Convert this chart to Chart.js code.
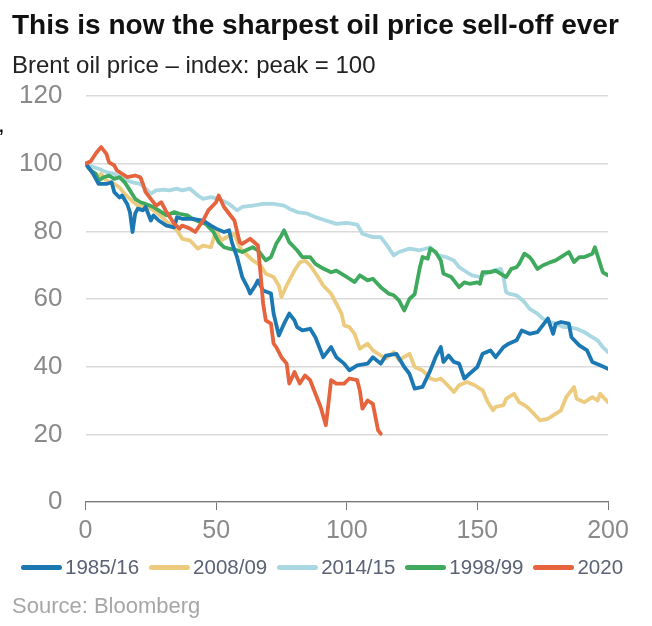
<!DOCTYPE html>
<html>
<head>
<meta charset="utf-8">
<script src="https://cdn.jsdelivr.net/npm/chart.js@4.4.1/dist/chart.umd.min.js"></script>
<style>
  html, body { margin: 0; padding: 0; background: #fff; }
  #wrap { position: relative; width: 652px; height: 626px; overflow: hidden; font-family: "Liberation Sans", Arial, sans-serif; }
  #chart { position: absolute; left: 0; top: 0; }
  .txt { position: absolute; left: 12px; white-space: nowrap; }
  #title { top: 11px; font-size: 28px; line-height: 28px; font-weight: bold; color: #111; }
  #subtitle { top: 53px; font-size: 24px; line-height: 24px; color: #222; }
  #source { top: 595px; font-size: 22px; line-height: 22px; color: #a6a6a6; }
  #mark { left: -2px; top: 112px; font-size: 24px; line-height: 24px; color: #000; }
  #legend { position: absolute; left: 21px; top: 556px; height: 22px; display: flex; align-items: center; font-size: 20.5px; line-height: 22px; color: #5b6275; white-space: nowrap; }
  #legend .item { display: flex; align-items: center; margin-right: 10px; }
  #legend .line { width: 41px; height: 5px; border-radius: 3px; margin-right: 3px; }
</style>
</head>
<body>
<div id="wrap">
  <canvas id="chart" width="652" height="626"></canvas>
  <div class="txt" id="title">This is now the sharpest oil price sell-off ever</div>
  <div class="txt" id="subtitle">Brent oil price – index: peak = 100</div>
  <div class="txt" id="mark">,</div>
  <div id="legend"></div>
  <div class="txt" id="source">Source: Bloomberg</div>
</div>
<script>
// days since the peak, and the index value (peak = 100)
const labels = ['1985/16', '2008/09', '2014/15', '1998/99', '2020'];
const yTicks = [0, 20, 40, 60, 80, 100, 120];
const xTicks = [0, 50, 100, 150, 200];

const days1985 = [0,3,5,8,10,11,13,14,16,17,18,19,20,22,23,25,26,28,31,34,35,37,41,45,48,50,53,55,56,58,60,62,63,65,66,68,71,72,74,76,78,80,81,83,86,88,91,94,96,99,101,104,108,110,113,115,119,122,124,126,129,132,134,136,137,139,141,143,145,147,150,152,155,157,160,162,165,167,170,173,175,177,179,180,182,185,186,189,192,194,197,200];
const vals1985 = [100,97,94,94,94.5,91.6,90,90.6,88,85.7,79.8,85.2,86.7,86.2,87.2,83.2,84.7,83.2,81.7,81.2,84.2,83.7,83.7,83.2,81.7,80.8,79.8,80.3,76.8,72.4,66.5,63.5,61.6,64,65.5,62.5,61.6,55.7,49.2,52.7,55.7,53.7,51.7,50.7,51.2,48.7,42.8,45.8,42.8,40.9,38.9,40.4,40.9,42.8,40.9,43.3,43.8,39.9,37.9,33.5,34,38.9,42.8,45.8,41.4,43.3,41.4,40.9,36.5,37.9,39.9,43.8,44.8,42.8,45.8,46.8,47.8,50.7,49.7,50.2,52.2,54.2,49.7,52.7,53.2,52.7,48.7,46.3,44.8,41.4,40.4,39.4];

const days2008 = [0,2,4,6,8,11,13,15,17,20,22,25,27,30,32,35,37,40,43,45,48,50,52,54,57,59,62,64,67,69,72,74,75,77,80,82,84,86,89,91,94,96,98,99,101,103,105,108,110,113,115,118,120,124,126,129,132,134,136,138,141,143,146,149,152,154,156,157,160,161,164,166,169,171,174,177,179,182,184,187,188,191,194,196,197,200];
const vals2008 = [100,98,95.5,97,95,94,93,91.1,89.6,87.6,87.2,86.7,85.7,83.7,82.2,80.3,77.8,77.3,74.9,75.8,75.3,80.3,77.3,78.3,79.3,75.3,72.9,71.4,69.9,67.5,66.5,64,60.6,64,68.4,70.8,71.4,69.9,66.5,64,61.6,58.6,55.7,52.2,51.7,49.7,45.3,46.8,44.8,43.3,42.4,44.3,41.9,43.8,39.9,38.9,36.5,36,36.5,35,32.5,34.5,35.5,34.5,33,29.5,27.1,28.1,28.6,30.5,32,29.5,28.1,26.6,24.1,24.6,25.6,27.1,31,34,30.5,29.5,31,30,32,29.5];

const days2014 = [0,3,5,8,11,13,16,18,21,23,25,27,30,32,35,37,40,43,45,48,51,55,58,60,64,68,72,76,78,81,85,88,92,96,100,104,106,110,113,115,118,120,124,128,132,135,138,141,143,146,148,151,154,156,159,160,161,162,165,168,170,173,175,178,180,183,185,188,191,193,196,198,200];
const vals2014 = [100,99,98.5,97.5,97,96,95,94.5,94,92.6,91.1,92.1,92.3,92.1,92.6,92.1,92.6,90.6,89.6,90.1,89.6,88.1,86.2,87.2,87.6,88.1,88.1,87.6,86.7,85.7,85.2,84.2,83.2,82.2,82.5,82,79.3,78.3,78.3,76.3,72.9,73.9,74.9,74.4,75.3,72.9,72.4,71.4,69.4,67.9,67,66.5,67.9,68.4,68.9,66.5,62,61.6,61.1,59.1,57.1,55.7,54.2,53.2,52.7,51.7,51.7,51.2,50.2,49.2,47.8,45.8,44.3];

const days1998 = [0,2,4,5,7,9,11,13,15,17,19,21,23,26,28,31,34,36,39,41,44,46,49,51,53,55,58,60,64,66,69,71,73,75,76,78,81,83,86,88,91,94,96,99,100,103,105,108,110,113,116,118,120,122,124,126,128,129,131,132,134,136,137,140,141,143,145,147,150,151,152,155,157,161,163,165,166,168,170,171,173,175,178,180,183,185,187,189,191,194,195,197,198,200];
const vals1998 = [100,98,97,95,96,96.5,95.5,96,94.5,92.1,89.6,88.6,88.1,87.2,86.2,84.7,85.7,85.2,84.7,83.7,82.7,82.2,79.8,76.8,75.3,74.9,74.4,73.9,75.3,74.4,71.4,72.4,76.3,78.8,80.3,76.8,74.4,72.4,72.4,70.4,69,67.9,68.4,67,66.5,65,67,65.5,66,63.5,61.6,61.1,59.6,56.6,60,61.4,69.4,72.4,71.9,74.9,73.9,71.4,67.5,66.5,65.5,63.5,64.9,64.5,64.9,64.5,67.9,67.9,68.4,66.5,68.9,69.4,70.4,73.4,72.4,71.4,68.9,69.9,70.9,71.4,72.9,73.9,70.9,72.4,72.4,73.4,75.3,70.4,67.9,67];

const days2020 = [0,2,4,6,8,9,11,12,14,16,19,21,22,23,25,27,29,31,34,36,37,40,42,45,47,50,51,53,57,59,60,63,66,67,68,69,71,72,73,75,77,78,80,82,84,86,88,90,92,93,94,96,99,101,104,105,106,108,110,112,113];
const vals2020 = [100,100.7,103.1,104.9,102.9,100.4,99.5,98,97,96,96.5,96,94,91.6,89.6,87.6,88.6,85.7,82.2,80.8,81.7,80.8,79.8,83.2,86.2,88.6,90.6,87.2,83.2,76.8,76.3,77.8,75.8,67.5,58.6,53.7,52.7,46.8,45.8,42.8,40.9,35,38.4,35,37.4,36,32,28.1,22.7,29.1,36,35,35,36.5,36,33,27.6,30,29,21.2,20.2];

const colors = ['#1b78b3', '#eccb7e', '#a9d8e2', '#3fa95e', '#e5643d'];

function pts(days, vals) {
  return days.map((d, i) => ({ x: d, y: vals[i] }));
}

const series = [
  pts(days1985, vals1985),
  pts(days2008, vals2008),
  pts(days2014, vals2014),
  pts(days1998, vals1998),
  pts(days2020, vals2020)
];
// red on top, light blue at the back
const drawOrder = [1, 3, 4, 2, 0];

const FONT = '"Liberation Sans", Arial, sans-serif';

const chart = new Chart(document.getElementById('chart').getContext('2d'), {
  type: 'line',
  data: {
    datasets: series.map((s, i) => ({
      label: labels[i],
      data: s,
      borderColor: colors[i],
      backgroundColor: colors[i],
      borderWidth: 3.8,
      pointRadius: 0,
      tension: 0,
      borderJoinStyle: 'round',
      borderCapStyle: 'round',
      order: drawOrder[i]
    }))
  },
  options: {
    responsive: false,
    animation: false,
    layout: { padding: { left: 17, right: 44, top: 96, bottom: 84 } },
    scales: {
      x: {
        type: 'linear',
        min: 0,
        max: 200,
        afterBuildTicks: axis => { axis.ticks = xTicks.map(v => ({ value: v })); },
        afterFit: axis => { axis.height = 40; },
        border: { display: true, color: '#777', width: 1.2 },
        grid: { drawOnChartArea: false, drawTicks: true, tickLength: 8, color: '#777' },
        ticks: { color: '#8a8a8a', font: { family: FONT, size: 25 }, padding: 6, maxRotation: 0 }
      },
      y: {
        min: 0,
        max: 120,
        afterBuildTicks: axis => { axis.ticks = yTicks.map(v => ({ value: v })); },
        afterFit: axis => { axis.width = 68.5; },
        border: { display: false },
        grid: { color: '#dadada', lineWidth: 1.5, drawTicks: false },
        ticks: { color: '#8a8a8a', font: { family: FONT, size: 26 }, padding: 23 }
      }
    },
    plugins: {
      tooltip: { enabled: false },
      legend: { display: false }
    }
  }
});

// legend row built from the same labels and colours
const legend = document.getElementById('legend');
labels.forEach((name, i) => {
  const item = document.createElement('div');
  item.className = 'item';
  const line = document.createElement('span');
  line.className = 'line';
  line.style.background = colors[i];
  const text = document.createElement('span');
  text.textContent = name;
  item.appendChild(line);
  item.appendChild(text);
  legend.appendChild(item);
});
</script>
</body>
</html>
